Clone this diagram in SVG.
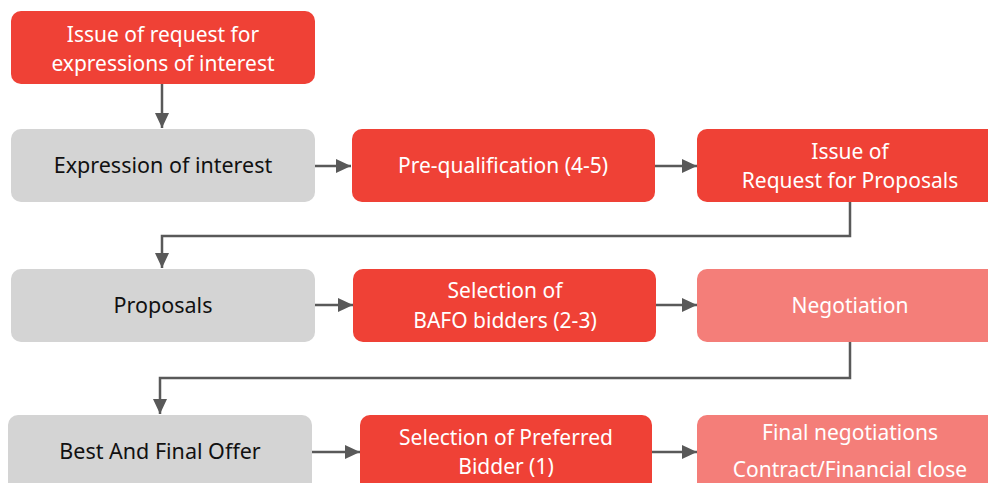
<svg xmlns="http://www.w3.org/2000/svg" width="988" height="483" viewBox="0 0 988 483">
<style>
.red{fill:#EF4136}
.pink{fill:#F47E79}
.gray{fill:#D4D4D4}
.wt{fill:#ffffff;font-family:"Noto Sans","Open Sans",sans-serif;font-size:21px;text-anchor:middle}
.bt{fill:#111111;font-family:"Noto Sans","Open Sans",sans-serif;font-size:21.5px;text-anchor:middle}
.con{fill:none;stroke:#595959;stroke-width:2.5;marker-end:url(#ah)}
</style>
<defs>
<marker id="ah" markerUnits="userSpaceOnUse" markerWidth="16" markerHeight="16" viewBox="0 0 16 16" refX="15" refY="8" orient="auto">
<path d="M0,1 L15,8 L0,15 Z" fill="#595959"/>
</marker>
</defs>
<rect width="988" height="483" fill="#ffffff"/>
<g id="connectors">
<path class="con" d="M162,84 V128"/>
<path class="con" d="M315,166 H351"/>
<path class="con" d="M655,166 H697"/>
<path class="con" d="M850,202 V236 H162 V268"/>
<path class="con" d="M315,305 H353"/>
<path class="con" d="M656,305 H697"/>
<path class="con" d="M850,342 V378 H160 V414"/>
<path class="con" d="M312,452 H360"/>
<path class="con" d="M652,452 H697"/>
</g>
<g id="n1"><rect class="red" x="11" y="11" width="304" height="73" rx="10"/>
<text class="wt" x="163" y="42">Issue of request for</text>
<text class="wt" x="163" y="71">expressions of interest</text></g>
<g id="n2"><rect class="gray" x="11" y="129" width="304" height="73" rx="10"/>
<text class="bt" x="163" y="173">Expression of interest</text></g>
<g id="n3"><rect class="red" x="352" y="129" width="303" height="73" rx="10"/>
<text class="wt" x="503" y="173">Pre-qualification (4-5)</text></g>
<g id="n4"><rect class="red" x="697" y="129" width="306" height="73" rx="10"/>
<text class="wt" x="850" y="159">Issue of</text>
<text class="wt" x="850" y="188">Request for Proposals</text></g>
<g id="n5"><rect class="gray" x="11" y="269" width="304" height="73" rx="10"/>
<text class="bt" x="163" y="313">Proposals</text></g>
<g id="n6"><rect class="red" x="353" y="269" width="303" height="73" rx="10"/>
<text class="wt" x="505" y="298">Selection of</text>
<text class="wt" x="505" y="328">BAFO bidders (2-3)</text></g>
<g id="n7"><rect class="pink" x="697" y="269" width="306" height="73" rx="10"/>
<text class="wt" x="850" y="313">Negotiation</text></g>
<g id="n8"><rect class="gray" x="8" y="415" width="304" height="80" rx="10"/>
<text class="bt" x="160" y="459">Best And Final Offer</text></g>
<g id="n9"><rect class="red" x="360" y="415" width="292" height="80" rx="10"/>
<text class="wt" x="506" y="445">Selection of Preferred</text>
<text class="wt" x="506" y="474">Bidder (1)</text></g>
<g id="n10"><rect class="pink" x="697" y="415" width="306" height="80" rx="10"/>
<text class="wt" x="850" y="440">Final negotiations</text>
<text class="wt" x="850" y="477">Contract/Financial close</text></g>
</svg>
